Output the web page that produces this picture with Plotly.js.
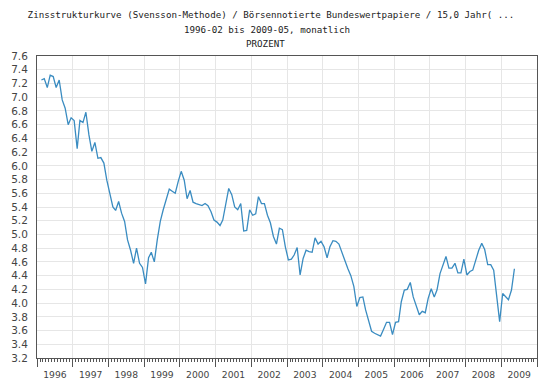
<!DOCTYPE html>
<html>
<head>
<meta charset="utf-8">
<script src="https://cdn.plot.ly/plotly-3.0.1.min.js"></script>
<style>html,body{margin:0;padding:0;background:#fff;}#chart{width:550px;height:389px;}</style>
</head>
<body>
<div id="chart"></div>
<script>
// Monthly values (PROZENT), 1996-02 .. 2009-05
const startMonth1996 = 2;
const v1996 = [7.25,7.27,7.14,7.32,7.30,7.14,7.25,6.96,6.84,6.60,6.70];
const v1997 = [6.66,6.25,6.66,6.63,6.78,6.45,6.21,6.34,6.11,6.12,6.04,5.79];
const v1998 = [5.58,5.40,5.35,5.48,5.31,5.19,4.92,4.77,4.58,4.80,4.58,4.52];
const v1999 = [4.28,4.66,4.74,4.60,4.92,5.19,5.36,5.53,5.66,5.63,5.60,5.77];
const v2000 = [5.92,5.79,5.52,5.64,5.47,5.45,5.43,5.42,5.45,5.42,5.33,5.21];
const v2001 = [5.18,5.13,5.21,5.45,5.67,5.58,5.40,5.36,5.45,5.05,5.06,5.36];
const v2002 = [5.28,5.30,5.55,5.45,5.45,5.28,5.17,4.97,4.86,5.09,5.07,4.82];
const v2003 = [4.63,4.64,4.70,4.81,4.41,4.65,4.77,4.75,4.74,4.95,4.86,4.90];
const v2004 = [4.82,4.66,4.82,4.91,4.90,4.86,4.73,4.62,4.50,4.40,4.24,3.95];
const v2005 = [4.08,4.09,3.90,3.72,3.59,3.56,3.54,3.52,3.62,3.72,3.72,3.54];
const v2006 = [3.72,3.73,4.02,4.19,4.20,4.30,4.09,3.96,3.83,3.88,3.86,4.07];
const v2007 = [4.21,4.09,4.19,4.43,4.55,4.68,4.51,4.51,4.58,4.44,4.44,4.64];
const v2008 = [4.41,4.46,4.48,4.64,4.77,4.87,4.78,4.56,4.56,4.48,4.10,3.73];
const v2009 = [4.14,4.09,4.05,4.19,4.50];

const years = [1996,1997,1998,1999,2000,2001,2002,2003,2004,2005,2006,2007,2008,2009];
const yearValues = [v1996,v1997,v1998,v1999,v2000,v2001,v2002,v2003,v2004,v2005,v2006,v2007,v2008,v2009];

const titleLine1 = "Zinsstrukturkurve (Svensson-Methode) / Börsennotierte Bundeswertpapiere / 15,0 Jahr( ...";
const titleLine2 = "1996-02 bis 2009-05, monatlich";
const titleLine3 = "PROZENT";

const xs = [], ys = [];
years.forEach((yr, i) => {
  const first = (yr === 1996) ? startMonth1996 : 1;
  yearValues[i].forEach((v, k) => {
    const mo = first + k;
    xs.push(yr + "-" + String(mo).padStart(2, "0") + "-15");
    ys.push(v);
  });
});

const trace = {
  x: xs, y: ys, type: "scatter", mode: "lines",
  line: {color: "#3a8cc1", width: 1.3},
  hoverinfo: "skip"
};

const titleFont = {family: "DejaVu Sans Mono", size: 9.2, color: "#222"};

const layout = {
  width: 550, height: 389,
  margin: {l: 37, r: 13, t: 56, b: 31},
  paper_bgcolor: "#fff", plot_bgcolor: "#fff",
  showlegend: false,
  title: {
    text: titleLine1,
    font: titleFont,
    x: 0.4927, xanchor: "center", xref: "container",
    y: 0.9614, yanchor: "middle", yref: "container"
  },
  annotations: [
    {text: titleLine2, font: titleFont, showarrow: false,
     xref: "paper", yref: "paper", x: 0.459, y: 1.0894, xanchor: "center", yanchor: "middle"},
    {text: titleLine3, font: titleFont, showarrow: false,
     xref: "paper", yref: "paper", x: 0.456, y: 1.043, xanchor: "center", yanchor: "middle"}
  ],
  xaxis: {
    type: "date",
    range: ["1996-01-01", "2010-01-01"],
    tick0: "1996-01-01", dtick: "M12",
    tickformat: "%Y", ticklabelmode: "period",
    ticks: "outside", ticklen: 8, tickwidth: 1, tickcolor: "#555",
    showgrid: true, gridcolor: "#e6e6e6", gridwidth: 1,
    showline: true, linecolor: "#555", linewidth: 1, mirror: true,
    zeroline: false,
    tickfont: {family: "DejaVu Sans", size: 9.2, color: "#444"},
    minor: {dtick: "M1", tick0: "1996-01-01", ticks: "outside", ticklen: 3, tickcolor: "#555", showgrid: false}
  },
  yaxis: {
    range: [3.2, 7.6], dtick: 0.2, tick0: 3.2, tickformat: ".1f",
    ticks: "", ticklabelstandoff: 6,
    showgrid: true, gridcolor: "#e6e6e6", gridwidth: 1,
    showline: true, linecolor: "#555", linewidth: 1, mirror: true,
    zeroline: false,
    tickfont: {family: "DejaVu Sans", size: 10.5, color: "#444"}
  }
};

Plotly.newPlot("chart", [trace], layout, {staticPlot: true, displayModeBar: false});
</script>
</body>
</html>
